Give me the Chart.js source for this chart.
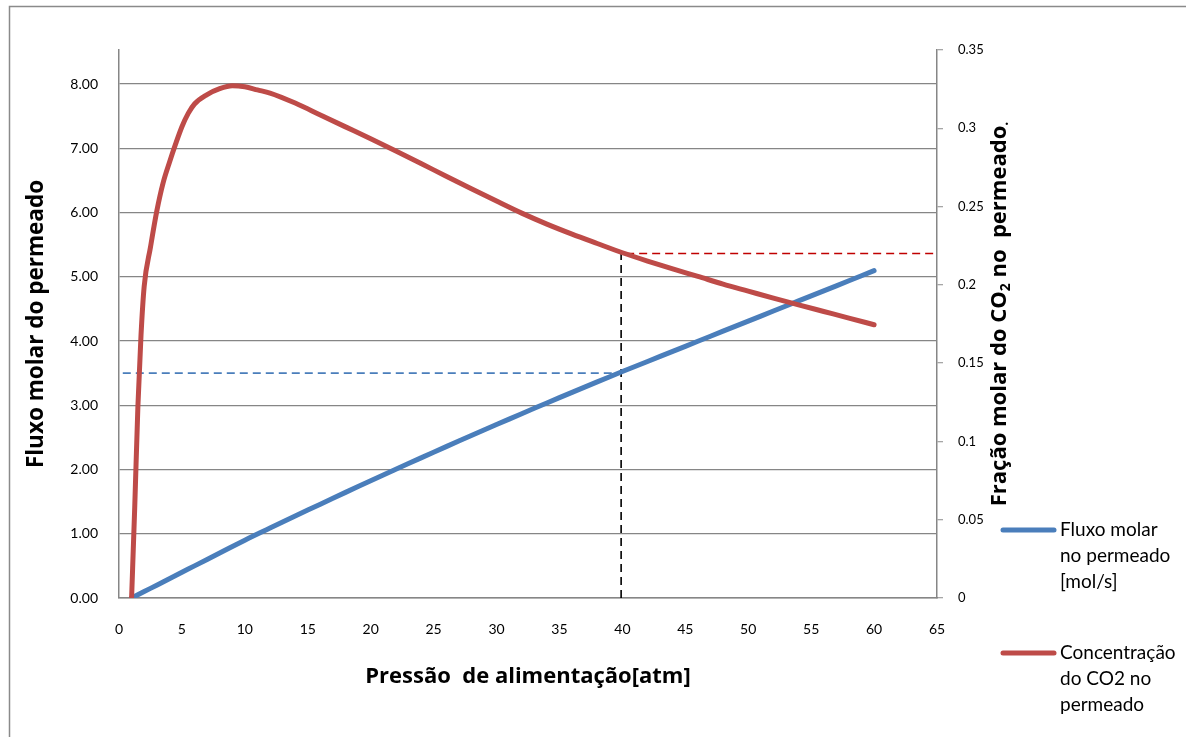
<!DOCTYPE html>
<html>
<head>
<meta charset="utf-8">
<script src="https://cdn.jsdelivr.net/npm/chart.js@4.4.0/dist/chart.umd.min.js"></script>
<style>
  html, body { margin: 0; padding: 0; background: #fff; }
  #wrap { width: 1186px; height: 737px; position: relative; }
</style>
</head>
<body>
<div id="wrap"><canvas id="c" width="1186" height="737"></canvas></div>
<script>
// ---- data ----
const fluxoX = [1,2,3,4,5,6,8,10,12,14,16,18,20,22,24,26,28,30,32,34,36,38,40,42,44,46,48,50,52,54,56,58,60];
const fluxoY = [0,0.10,0.20,0.30,0.40,0.50,0.70,0.90,1.089,1.276,1.461,1.644,1.825,2.004,2.181,2.356,2.529,2.70,2.869,3.036,3.201,3.364,3.525,3.682,3.839,3.996,4.153,4.31,4.467,4.624,4.781,4.938,5.095];

const concX = [1,1.25,1.5,1.75,2,2.5,3,3.5,4,4.5,5,5.5,6,7,8,9,10,11,12,14,16,18,20,22,24,26,28,30,32,34,36,38,40,42,44,46,48,50,52,54,56,58,60];
const concY = [0,0.058,0.122,0.168,0.199,0.224,0.247,0.265,0.278,0.290,0.301,0.3095,0.3155,0.3215,0.3253,0.3272,0.3265,0.3245,0.3225,0.3161,0.3085,0.3009,0.2933,0.2855,0.2775,0.2694,0.2614,0.2535,0.2458,0.2388,0.2324,0.2264,0.2205,0.2152,0.2102,0.2054,0.2005,0.1960,0.1915,0.1872,0.1830,0.1788,0.1745];

// reference (dashed) lines
const refBlueX = [0.3, 39.6];  const refBlueY = [3.5, 3.5];
const refVertX = [39.9, 39.9]; const refVertY = [0, 0.2205];
const refRedX  = [40.3, 65];   const refRedY  = [0.22, 0.22];

const xTicks = [0,5,10,15,20,25,30,35,40,45,50,55,60,65];
const leftTicks = [0,1,2,3,4,5,6,7,8];
const rightTicks = [0,0.05,0.1,0.15,0.2,0.25,0.3,0.35];
const rightTickLabels = ['0','0.05','0.1','0.15','0.2','0.25','0.3','0.35'];

const legendLabels = [
  ['Fluxo molar','no permeado','[mol/s]'],
  ['Concentração','do CO2 no','permeado']
];

const pts = (xs, ys) => xs.map((x, i) => ({x: x, y: ys[i]}));

const BLUE = '#4a7ebb', RED = '#be4b48', GRID = '#868686';
const FONT = 'Lato, "Open Sans", sans-serif';
const TFONT = '"Open Sans", Lato, sans-serif';

const framePlugin = {
  id: 'frame',
  beforeDraw(chart) {
    const ctx = chart.ctx;
    ctx.save();
    ctx.fillStyle = '#fff';
    ctx.fillRect(0, 0, chart.width, chart.height);
    ctx.strokeStyle = '#8a8a8a';
    ctx.lineWidth = 1.5;
    ctx.strokeRect(9.5, 6.5, 1200, 800);
    ctx.restore();
  },
  afterDraw(chart) {
    const ctx = chart.ctx;
    // right axis title with subscript
    ctx.save();
    ctx.translate(1000, 314);
    ctx.rotate(-Math.PI / 2);
    ctx.fillStyle = '#000';
    ctx.textBaseline = 'middle';
    const big = 'bold 22px ' + TFONT, small = 'bold 14px ' + TFONT;
    const parts = [
      ['Fração molar do CO', big, 0],
      ['2', small, 6],
      [' no  permeado', big, 0],
      ['.', small, 4]
    ];
    let total = 0;
    parts.forEach(p => { ctx.font = p[1]; total += ctx.measureText(p[0]).width; });
    let x = -total / 2;
    ctx.textAlign = 'left';
    parts.forEach(p => { ctx.font = p[1]; ctx.fillText(p[0], x, p[2]); x += ctx.measureText(p[0]).width; });
    ctx.restore();

    // legend
    ctx.save();
    const items = [
      {color: chart.data.datasets[0].borderColor, lines: legendLabels[0], y: 530},
      {color: chart.data.datasets[1].borderColor, lines: legendLabels[1], y: 653}
    ];
    ctx.font = '19px ' + FONT;
    ctx.textBaseline = 'middle';
    ctx.textAlign = 'left';
    items.forEach(it => {
      ctx.strokeStyle = it.color;
      ctx.lineWidth = 5;
      ctx.lineCap = 'round';
      ctx.beginPath();
      ctx.moveTo(1003, it.y);
      ctx.lineTo(1054, it.y);
      ctx.stroke();
      ctx.fillStyle = '#000';
      it.lines.forEach((t, i) => ctx.fillText(t, 1060, it.y + i * 26));
    });
    ctx.restore();
  }
};

const dashed = (data, color, axis) => ({
  data: data, yAxisID: axis, borderColor: color, borderWidth: 1.6,
  borderDash: [8, 5], pointRadius: 0, tension: 0, order: 2, fill: false
});

new Chart(document.getElementById('c'), {
  type: 'line',
  data: {
    datasets: [
      { label: 'Fluxo molar no permeado [mol/s]', data: pts(fluxoX, fluxoY), yAxisID: 'yL',
        borderColor: BLUE, borderWidth: 5, pointRadius: 0, tension: 0.4,
        borderCapStyle: 'round', borderJoinStyle: 'round', order: 1, fill: false },
      { label: 'Concentração do CO2 no permeado', data: pts(concX, concY), yAxisID: 'yR',
        borderColor: RED, borderWidth: 5, pointRadius: 0, cubicInterpolationMode: 'monotone',
        borderCapStyle: 'round', borderJoinStyle: 'round', order: 0, fill: false },
      dashed(pts(refBlueX, refBlueY), BLUE, 'yL'),
      dashed(pts(refVertX, refVertY), '#000', 'yR'),
      dashed(pts(refRedX, refRedY), '#c00000', 'yR')
    ]
  },
  options: {
    responsive: false,
    animation: false,
    layout: { padding: { top: 50, left: 0, right: 0, bottom: 0 } },
    plugins: { legend: { display: false }, tooltip: { enabled: false } },
    scales: {
      x: {
        type: 'linear', min: 0, max: 65,
        afterBuildTicks: s => { s.ticks = xTicks.map(v => ({value: v})); },
        afterFit: s => { s.height = 139; },
        grid: { display: false, drawTicks: false },
        border: { display: true, color: GRID, width: 1.5 },
        ticks: { padding: 23, color: '#000', font: { family: FONT, size: 14 }, maxRotation: 0 },
        title: { display: true, text: 'Pressão  de alimentação[atm]', color: '#000',
                 font: { family: TFONT, size: 22, weight: 'bold' }, padding: { top: 0, bottom: 47 } }
      },
      yL: {
        type: 'linear', position: 'left', min: 0, max: 8.53,
        afterBuildTicks: s => { s.ticks = leftTicks.map(v => ({value: v})); },
        afterFit: s => { s.width = 119; },
        grid: { color: GRID, lineWidth: 1.3, drawTicks: false },
        border: { display: true, color: GRID, width: 1.5 },
        ticks: { padding: 21, color: '#000', font: { family: FONT, size: 14 },
                 callback: v => Number(v).toFixed(2) },
        title: { display: true, text: 'Fluxo molar do permeado', color: '#000',
                 font: { family: TFONT, size: 22.5, weight: 'bold' }, padding: { top: 23, bottom: 0 } }
      },
      yR: {
        type: 'linear', position: 'right', min: 0, max: 0.35,
        afterBuildTicks: s => { s.ticks = rightTicks.map(v => ({value: v})); },
        afterFit: s => { s.width = 249; },
        grid: { drawOnChartArea: false, drawTicks: true, tickLength: 6, color: '#a6a6a6', lineWidth: 1.3 },
        border: { display: true, color: GRID, width: 1.5 },
        ticks: { padding: 15, color: '#000', font: { family: FONT, size: 13 },
                 callback: (v, i) => rightTickLabels[i] }
      }
    }
  },
  plugins: [framePlugin]
});
</script>
</body>
</html>
